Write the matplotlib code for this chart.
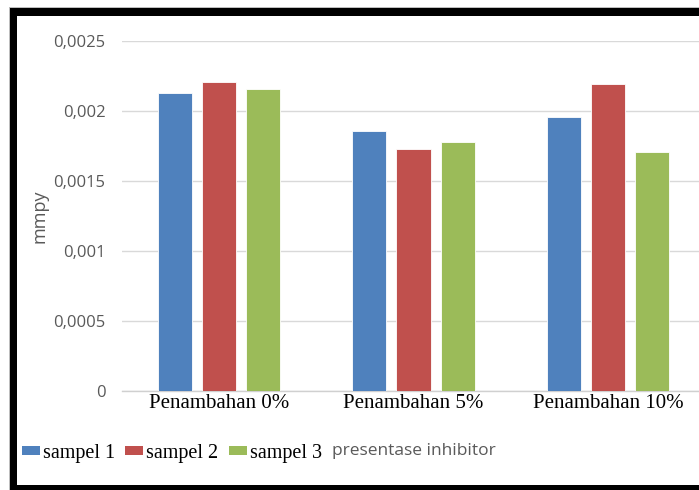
import numpy as np
import matplotlib
matplotlib.use("Agg")
import matplotlib.pyplot as plt
from matplotlib.patches import Rectangle, Patch
from matplotlib.ticker import FixedLocator

# -----------------------------
# data
# -----------------------------
categories = ["Penambahan 0%", "Penambahan 5%", "Penambahan 10%"]
series_names = ["sampel 1", "sampel 2", "sampel 3"]
sampel_1 = [0.00213, 0.00186, 0.00196]
sampel_2 = [0.00221, 0.00173, 0.00219]
sampel_3 = [0.00216, 0.00178, 0.00171]
y_ticks = [0, 0.0005, 0.001, 0.0015, 0.002, 0.0025]
y_tick_labels = ["0", "0,0005", "0,001", "0,0015", "0,002", "0,0025"]

COLORS = ["#4f81bd", "#c0504d", "#9bbb59"]
GRAY_TXT = "#595959"
W, H = 699, 490

fig = plt.figure(figsize=(W / 100, H / 100), dpi=100)
fig.patch.set_facecolor("white")

# plot area runs past the right edge of the figure
left, right, bottom, top = 122, 705, 391, 41
ax = fig.add_axes([left / W, 1 - bottom / H, (right - left) / W, (bottom - top) / H])

x = np.arange(len(categories))
width = 0.175
step = 0.227
for i, (vals, name) in enumerate(zip([sampel_1, sampel_2, sampel_3], series_names)):
    ax.bar(x + (i - 1) * step, vals, width, color=COLORS[i], label=name,
           edgecolor="white", linewidth=0.6, zorder=3)

ax.set_xlim(-0.5, len(categories) - 0.5)
ax.set_ylim(0, 0.0025)
ax.yaxis.set_major_locator(FixedLocator(y_ticks))
ax.set_yticklabels(y_tick_labels, fontsize=12, color=GRAY_TXT, family="Open Sans")
ax.set_xticks(x)
ax.set_xticklabels(categories, fontsize=15, family="Liberation Serif", color="black")
ax.tick_params(axis="both", length=0)
ax.tick_params(axis="y", pad=12)
ax.tick_params(axis="x", pad=2)
ax.grid(axis="y", color="#d9d9d9", linewidth=1.0, zorder=0)
for s in ["top", "right", "left"]:
    ax.spines[s].set_visible(False)
ax.spines["bottom"].set_color("#d0d0d0")
ax.spines["bottom"].set_linewidth(1.0)

fig.text(39 / W, 1 - 216 / H, "mmpy", rotation=90, ha="center", va="center",
         fontsize=13, color=GRAY_TXT, family="Open Sans")

# legend row at the bottom
handles = [Patch(facecolor=c, edgecolor="none") for c in COLORS]
fig.legend(handles, series_names, loc="center left",
           bbox_to_anchor=(22 / W, 1 - 453 / H), ncol=3, frameon=False,
           prop={"family": "Liberation Serif", "size": 14.5},
           handlelength=0.9, handleheight=0.35, handletextpad=0.15,
           columnspacing=0.5, borderaxespad=0, borderpad=0)
fig.text(332 / W, 1 - 451 / H, "presentase inhibitor", ha="left", va="center",
         fontsize=12.5, color=GRAY_TXT, family="Open Sans")

# frame around the picture
def px_rect(x0, y0, x1, y1, color):
    fig.patches.append(Rectangle((x0 / W, 1 - y1 / H), (x1 - x0) / W, (y1 - y0) / H,
                                 transform=fig.transFigure, facecolor=color,
                                 edgecolor="none", zorder=10))

px_rect(9, 7, W, 8, "#bdbdbd")
px_rect(9, 7, 10, H, "#bdbdbd")
px_rect(10, 8, W, 16, "black")
px_rect(10, 8, 17, H, "black")
px_rect(10, 485, W, H, "black")

fig.savefig("out.png", dpi=100, facecolor="white")
